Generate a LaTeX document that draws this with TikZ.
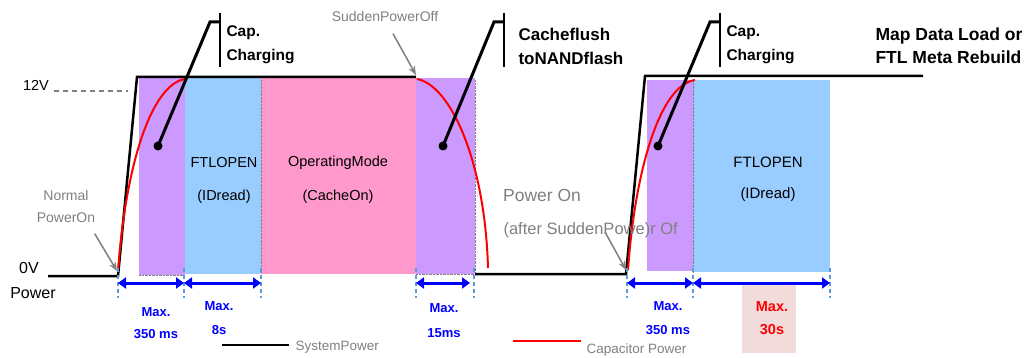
\documentclass[tikz,border=0pt]{standalone}
\usepackage{fontspec}
\setmainfont{Liberation Sans}
\usetikzlibrary{arrows.meta, backgrounds}
\definecolor{capviolet}{RGB}{204,153,255}
\definecolor{ftlblue}{RGB}{153,204,255}
\definecolor{oppink}{RGB}{255,153,204}
\definecolor{tickblue}{RGB}{91,155,213}
\definecolor{notegray}{RGB}{128,128,128}
\definecolor{maxbg}{RGB}{242,220,219}
\tikzset{
	phase/.style={draw=gray, densely dotted, line width=0.4pt},
	syspower/.style={line width=2.5pt, line join=miter},
	cappower/.style={red, line width=2pt},
	callout/.style={line width=3pt},
	note/.style={text=notegray, font=\fontsize{14}{22}\selectfont},
	notearrow/.style={notegray, line width=1.5pt, -{Stealth[length=9pt,width=7pt]}},
	tickline/.style={tickblue, dash pattern=on 4pt off 3pt, line width=1.2pt},
	span/.style={blue, line width=3pt, {Triangle[length=8pt,width=11pt]}-{Triangle[length=8pt,width=11pt]}},
	spantext/.style={text=blue, font=\bfseries\fontsize{13}{15}\selectfont},
	boxlabel/.style={font=\fontsize{14.5}{16}\selectfont},
	head/.style={font=\bfseries\fontsize{15.5}{24}\selectfont, align=left, anchor=west},
}

\begin{document}
\begin{tikzpicture}[x=1pt, y=-1pt]
		\useasboundingbox (0,0) rectangle (1028,358);
		\begin{scope}[on background layer]
		\fill[capviolet] (139,78) rectangle (185,275);
		\fill[ftlblue] (185,78) rectangle (261,274);
		\fill[oppink] (261,78) rectangle (416,274);
		\fill[capviolet] (416,78) rectangle (475,274);
		\fill[capviolet] (647,80) rectangle (693,271);
		\fill[ftlblue] (693,80) rectangle (830,272);
		\draw[phase] (139,275) -- (185,275);
		\draw[phase] (416,274) -- (475,274);
		\foreach \x in {261,475,693}
			\draw[phase] (\x,80) -- (\x,272);
		\fill[maxbg] (742,285) rectangle (796,353);
		\end{scope}
		
		\node[boxlabel] (ftl1) at (224,163) {FTLOPEN};
		\node[boxlabel] (id1) [below of = ftl1, node distance=34pt] {(IDread)};
		\node[boxlabel] (opm) at (338,163) {OperatingMode};
		\node[boxlabel] (cache) [below of = opm, node distance=34pt] {(CacheOn)};
		\node[boxlabel, font=\fontsize{15}{17}\selectfont] (ftl2) at (768,162) {FTLOPEN};
		\node[boxlabel, font=\fontsize{15}{17}\selectfont] (id2) [below of = ftl2, node distance=33pt] {(IDread)};
		
		% levels
		\node[font=\fontsize{14.5}{16}\selectfont] (v12) at (36,85) {12V};
		\draw[gray, dash pattern=on 5pt off 4pt, line width=1.2pt] (54,91) -- (128,91);
		\node[font=\fontsize{16}{18}\selectfont] (v0) at (29,268) {0V};
		\node[font=\fontsize{16}{18}\selectfont] (pw) [below of = v0, node distance=25pt, xshift=4pt] {Power};
		
		% system power and capacitor power
		\draw[syspower] (48,276) -- (118,276) -- (137,77) -- (416,77);
		\draw[syspower] (475,274) -- (626,274) -- (645,76) -- (923,76);
		\draw[cappower] (118,272) .. controls (125,170) and (150,85) .. (185,79);
		\draw[cappower] (417,79) .. controls (450,85) and (485,160) .. (488,268);
		\draw[cappower] (628,270) .. controls (635,170) and (660,85) .. (695,80);
		
		% callouts
		\coordinate (dot1) at (158,146);
		\coordinate (knee1) at (210,22);
		\coordinate (bar1) at (220,22);
		\fill (dot1) circle (4.5pt);
		\draw[callout] (dot1) -- (knee1) -- (bar1);
		\draw[line width=2pt] (220,13) -- (220,67);
		\node[head] (cap1) at (223,45) {Cap.\\Charging};
		
		\coordinate (dot2) at (443,146);
		\coordinate (knee2) at (494,22);
		\coordinate (bar2) at (504,22);
		\fill (dot2) circle (4.5pt);
		\draw[callout] (dot2) -- (knee2) -- (bar2);
		\draw[line width=2pt] (504,13) -- (504,67);
		\node[head, font=\bfseries\fontsize{17}{24}\selectfont] (flush) at (515,46) {Cacheflush\\toNANDflash};
		
		\coordinate (dot3) at (658,146);
		\coordinate (knee3) at (710,22);
		\coordinate (bar3) at (720,22);
		\fill (dot3) circle (4.5pt);
		\draw[callout] (dot3) -- (knee3) -- (bar3);
		\draw[line width=2pt] (720,13) -- (720,67);
		\node[head] (cap2) at (723,45) {Cap.\\Charging};
		
		\node[head, font=\bfseries\fontsize{17.5}{23}\selectfont] (mapdata) at (872,46) {Map Data Load or\\FTL Meta Rebuild};
		
		% gray notes
		\node[note] (spo) at (385,16) {SuddenPowerOff};
		\coordinate (spo-tip) at (416,75);
		\draw[notearrow] ([shift={(8pt,-9pt)}]spo.south) -- (spo-tip);
		
		\node[note, align=center] (npo) at (66,206) {Normal\\PowerOn};
		\coordinate (npo-tip) at (117,271);
		\draw[notearrow] ([shift={(-4pt,-8pt)}]npo.south east) -- (npo-tip);
		
		\node[note, font=\fontsize{17.5}{20}\selectfont] (pon) at (542,195) {Power On};
		\node[note, font=\fontsize{16.5}{20}\selectfont, anchor=west] (after) at (500,230) {(after SuddenPowe)r Of};
		\coordinate (after-arrow) at (605,232);
		\coordinate (pon-tip) at (626,270);
		\draw[notearrow] (after-arrow) -- (pon-tip);
		
		% spans
		\foreach \x in {118,184,261,416,474,627,693,830}
			\draw[tickline] (\x,268) -- (\x,298);
		\coordinate (s0) at (118,283);
		\coordinate (s1) at (184,283);
		\coordinate (s2) at (261,283);
		\coordinate (s3) at (416,283);
		\coordinate (s3e) at (470,283);
		\coordinate (s4) at (627,283);
		\coordinate (s5) at (693,283);
		\coordinate (s6) at (830,283);
		\draw[span] (s0) -- (s1);
		\draw[span] (s1) -- (s2);
		\draw[span] (s3) -- (s3e);
		\draw[span] (s4) -- (s5);
		\draw[span] (s5) -- (s6);
		
		\node[spantext] (max1) at (156,312) {Max.};
		\node[spantext] (len1) [below of = max1, node distance=22pt] {350 ms};
		\node[spantext] (max2) at (219,306) {Max.};
		\node[spantext] (len2) [below of = max2, node distance=24pt] {8s};
		\node[spantext] (max3) at (444,308) {Max.};
		\node[spantext] (len3) [below of = max3, node distance=25pt] {15ms};
		\node[spantext] (max4) at (668,306) {Max.};
		\node[spantext] (len4) [below of = max4, node distance=24pt] {350 ms};
		\node[spantext, text=red, font=\bfseries\fontsize{14.5}{16}\selectfont] (max5) at (772,307) {Max.};
		\node[spantext, text=red, font=\bfseries\fontsize{14.5}{16}\selectfont] (len5) [below of = max5, node distance=23pt] {30s};
		
		% legend
		\coordinate (sys-a) at (222,345);
		\coordinate (sys-b) at (289,345);
		\draw[syspower] (sys-a) -- (sys-b);
		\node[note, font=\fontsize{13.5}{16}\selectfont, anchor=west] (sys-lbl) at (292,347) {SystemPower};
		\coordinate (cap-a) at (513,341);
		\coordinate (cap-b) at (581,341);
		\draw[cappower, line width=2.5pt] (cap-a) -- (cap-b);
		\node[note, font=\fontsize{13.5}{16}\selectfont, anchor=west] (cap-lbl) at (583,350) {Capacitor Power};
\end{tikzpicture}
\end{document}
